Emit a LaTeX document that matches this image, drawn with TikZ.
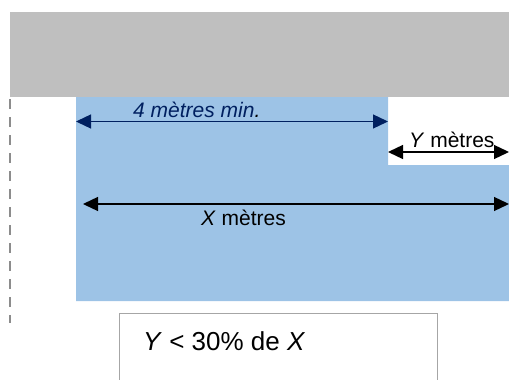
\documentclass[tikz,border=0pt]{standalone}
\usepackage{fontspec}
\setmainfont{Liberation Sans}
\usetikzlibrary{arrows.meta}
\definecolor{roofgray}{HTML}{BFBFBF}
\definecolor{zoneblue}{HTML}{9DC3E6}
\definecolor{navy}{HTML}{002060}
\definecolor{dashgray}{HTML}{8C8C8C}
\definecolor{boxgray}{HTML}{A6A6A6}
\tikzset{
  dimarrow/.style={line width=1.3pt,{Triangle[length=15pt,width=14pt]}-{Triangle[length=15pt,width=14pt]}},
  lbl/.style={inner sep=0pt,anchor=base west,font=\fontsize{21}{25}\selectfont},
}
\begin{document}
\begin{tikzpicture}[x=1pt,y=-1pt]
\useasboundingbox (0,0) rectangle (509,380);
% gray band
\fill[roofgray] (10,12) rectangle (509,97);
% blue zone with notch
\fill[zoneblue] (76,97) -- (388,97) -- (388,165) -- (509,165) -- (509,301) -- (76,301) -- cycle;
% dashed line
\draw[dashgray,line width=2pt,dash pattern=on 10pt off 8pt] (10,99) -- (10,323);
% box
\draw[boxgray,line width=1pt] (119,385) -- (119,313.5) -- (437,313.5) -- (437,385);
% coordinates
\coordinate (a1) at (76,121.5);
\coordinate (a2) at (388,121.5);
\coordinate (b1) at (388,152);
\coordinate (b2) at (509,152);
\coordinate (c1) at (83,204);
\coordinate (c2) at (509,204);
% arrows
\draw[dimarrow,navy] (a1) -- (a2);
\draw[dimarrow,black] (b1) -- (b2);
\draw[dimarrow,black] (c1) -- (c2);
% labels
\node[lbl,text=navy] (lmin) at (133,117) {\itshape 4 mètres min\textcolor{black}{.}};
\node[lbl] (ly) at (409,147) {\textit{Y} mètres};
\node[lbl] (lx) at (201,225) {\textit{X} mètres};
\node[inner sep=0pt,anchor=base west,font=\fontsize{26}{31}\selectfont] (rule) at (143,350.5) {\textit{Y} < 30\% de \textit{X}};
\end{tikzpicture}
\end{document}
